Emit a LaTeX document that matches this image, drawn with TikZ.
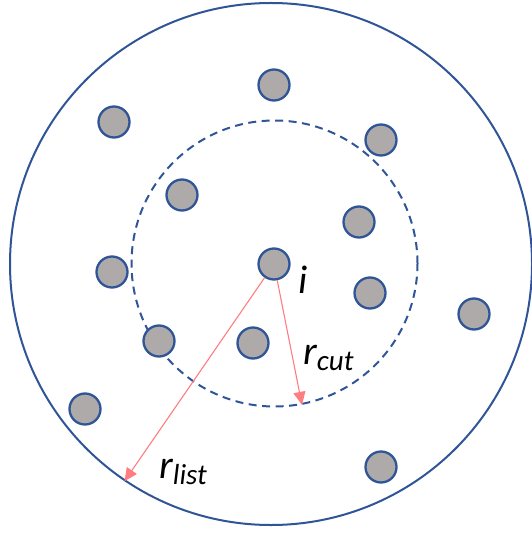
\documentclass[tikz,border=0pt]{standalone}
\usepackage{fontspec}
\setmainfont{Carlito}
\usepackage{tikz}
\usetikzlibrary{arrows.meta, positioning}

\definecolor{rimblue}{HTML}{2F5597}
\definecolor{atomgrey}{HTML}{AEAAAA}
\definecolor{radsalmon}{HTML}{FF7C80}

\newcommand{\radlabel}[1]{r\raisebox{-6pt}{\fontsize{29}{29}\selectfont #1}}

\begin{document}
\begin{tikzpicture}[
            x=1pt, y=-1pt,
            atom/.style={circle, draw=rimblue, fill=atomgrey, line width=2.3pt, minimum size=31pt, inner sep=0pt},
            listrim/.style={circle, draw=rimblue, line width=2pt, minimum size=522pt, inner sep=0pt},
            cutrim/.style={circle, draw=rimblue, line width=2pt, dash pattern=on 8pt off 5.5pt, minimum size=286pt, inner sep=0pt},
            radius arrow/.style={draw=radsalmon, line width=1.1pt, -{Triangle[length=13pt, width=12pt]}},
            radtext/.style={font=\fontsize{40}{40}\selectfont\itshape, inner sep=0pt, anchor=base west}
        ]
            \useasboundingbox (0,0) rectangle (531,537);

            % KRUHY
            \node[listrim] (listcirc) at (271,264) {};
            \node[cutrim] (cutcirc) at (274.5,263.5) {};

            % ČÁSTICE
            \foreach \px/\py [count=\k] in {274/85, 114/122, 381/140, 182/195, 359/222, 112/272,
                                            370/293, 474/314, 159/341, 253/343, 85/409, 381/467} {
                \node[atom] (a\k) at (\px,\py) {};
            }
            \node[atom] (i) at (274,264) {};

            % POLOMĚRY
            \draw[radius arrow] (i) -- (cutcirc.281.5);
            \draw[radius arrow] (i) -- (listcirc.236.8);

            % POPISKY
            \node[radtext] (ilabel) at (298,293) {i};
            \node[radtext] (cutlabel) at (303,364) {\radlabel{cut}};
            \node[radtext] (listlabel) at (159,478) {\radlabel{list}};
        \end{tikzpicture}
\end{document}
